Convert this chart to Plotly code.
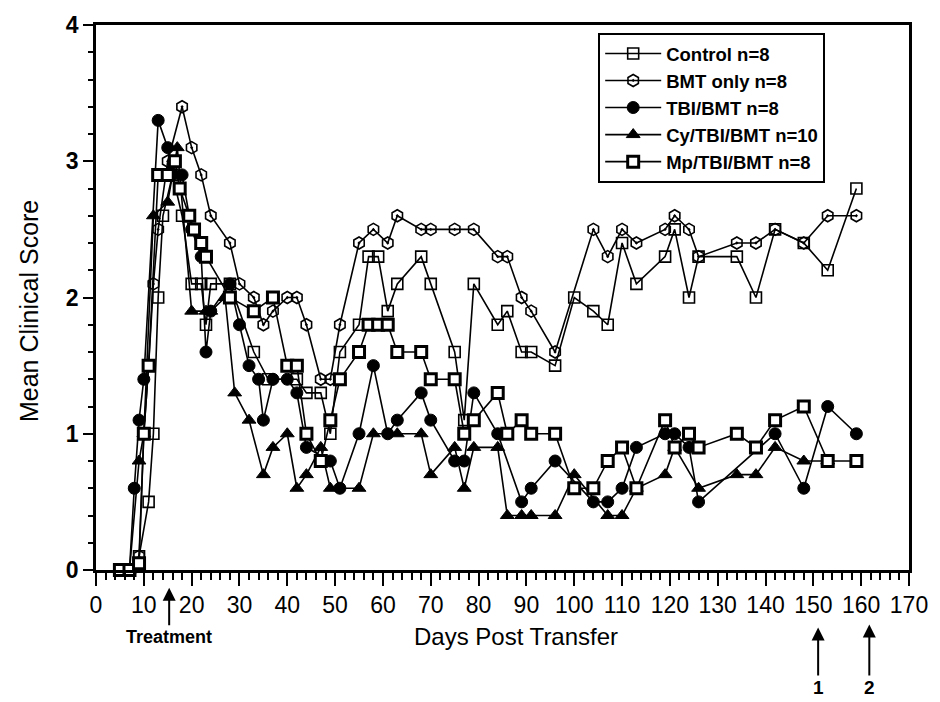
import plotly.graph_objects as go

# ---------------- data ----------------
control_days = [5, 7, 9, 11, 12, 13, 14, 16, 18, 20, 22, 23, 24, 28, 33, 36, 42, 44, 47, 49, 51, 55, 57, 59,
                61, 63, 68, 70, 75, 77, 79, 84, 86, 89, 91, 96, 100, 104, 107, 110, 113, 119, 121, 124,
                126, 134, 138, 142, 148, 153, 159]
control_vals = [0, 0, 0.1, 0.5, 1.0, 2.0, 2.6, 2.9, 2.6, 2.1, 2.1, 1.8, 2.1, 2.1, 1.6, 1.4, 1.4, 1.3, 1.3, 1.0, 1.6, 1.8, 2.3, 2.3,
                1.9, 2.1, 2.3, 2.1, 1.6, 1.1, 2.1, 1.8, 1.9, 1.6, 1.6, 1.5, 2.0, 1.9, 1.8, 2.4, 2.1, 2.3, 2.5, 2.0,
                2.3, 2.3, 2.0, 2.5, 2.4, 2.2, 2.8]

bmt_days = [5, 7, 9, 10, 11, 12, 13, 15, 18, 20, 22, 24, 28, 30, 33, 35, 37, 40, 42, 44, 47, 49, 51, 55, 58,
            61, 63, 68, 70, 75, 79, 84, 86, 89, 91, 96, 104, 107, 110, 113, 119, 121, 124, 126, 134, 138,
            142, 148, 153, 159]
bmt_vals = [0, 0, 0.1, 1.0, 1.5, 2.1, 2.5, 3.0, 3.4, 3.1, 2.9, 2.6, 2.4, 2.1, 2.0, 1.8, 1.9, 2.0, 2.0, 1.8, 1.4, 1.4, 1.8, 2.4, 2.5,
            2.4, 2.6, 2.5, 2.5, 2.5, 2.5, 2.3, 2.3, 2.0, 1.9, 1.6, 2.5, 2.3, 2.5, 2.4, 2.5, 2.6, 2.5, 2.3, 2.4, 2.4,
            2.5, 2.4, 2.6, 2.6]

tbi_days = [5, 7, 8, 9, 10, 13, 15, 16, 18, 20, 22, 23, 24, 28, 30, 32, 34, 35, 37, 40, 42, 44, 49, 51, 55,
            58, 61, 63, 68, 70, 75, 77, 79, 84, 89, 91, 96, 104, 107, 110, 113, 119, 121, 124, 126, 142,
            148, 153, 159]
tbi_vals = [0, 0, 0.6, 1.1, 1.4, 3.3, 3.1, 2.9, 2.9, 2.5, 2.3, 1.6, 1.9, 2.1, 1.8, 1.5, 1.4, 1.1, 1.4, 1.4, 1.3, 0.9, 0.8, 0.6, 1.0,
            1.5, 1.0, 1.1, 1.3, 1.1, 0.8, 0.8, 1.3, 1.0, 0.5, 0.6, 0.8, 0.5, 0.5, 0.6, 0.9, 1.0, 1.0, 0.9, 0.5, 1.0,
            0.6, 1.2, 1.0]

cy_days = [5, 7, 9, 10, 12, 15, 17, 20, 23, 24, 27, 29, 32, 35, 37, 40, 42, 44, 47, 49, 55, 58, 63, 68, 70,
           75, 77, 79, 84, 86, 89, 91, 96, 100, 107, 110, 113, 119, 121, 126, 134, 138, 142, 148, 153]
cy_vals = [0, 0, 0.8, 1.0, 2.6, 2.7, 3.1, 1.9, 1.9, 1.9, 2.0, 1.3, 1.1, 0.7, 0.9, 1.0, 0.6, 0.7, 0.9, 0.6, 0.6, 1.0, 1.0, 1.0, 0.7,
           0.9, 0.6, 0.9, 0.9, 0.4, 0.4, 0.4, 0.4, 0.7, 0.4, 0.4, 0.6, 0.7, 0.9, 0.6, 0.7, 0.7, 0.9, 0.8, 0.8]

mp_days = [5, 7, 9, 10, 11, 13, 15, 16.5, 17.5, 19.5, 20.5, 22, 23, 28, 33, 37, 40, 42, 44, 47, 49, 51, 55,
           57, 59, 61, 63, 68, 70, 75, 77, 79, 84, 86, 89, 91, 96, 100, 104, 107, 110, 113, 119, 121,
           124, 126, 134, 138, 142, 148, 153, 159]
mp_vals = [0, 0, 0.05, 1.0, 1.5, 2.9, 2.9, 3.0, 2.8, 2.6, 2.5, 2.4, 2.3, 2.0, 1.9, 2.0, 1.5, 1.5, 1.0, 0.8, 1.1, 1.4, 1.6,
           1.8, 1.8, 1.8, 1.6, 1.6, 1.4, 1.4, 1.0, 1.1, 1.3, 1.0, 1.1, 1.0, 1.0, 0.6, 0.6, 0.8, 0.9, 0.6, 1.1, 0.9,
           1.0, 0.9, 1.0, 0.9, 1.1, 1.2, 0.8, 0.8]

series_names = ["Control n=8", "BMT only n=8", "TBI/BMT n=8", "Cy/TBI/BMT n=10", "Mp/TBI/BMT n=8"]
x_tick_vals = list(range(0, 171, 10))
y_tick_vals = [0, 1, 2, 3, 4]

# ---------------- figure ----------------
FONT = "Liberation Sans, Arial, sans-serif"
fig = go.Figure()

styles = [
    dict(symbol="square-open", size=11, color="black", line=dict(color="black", width=1.6)),
    dict(symbol="hexagon-open-dot", size=12, color="black", line=dict(color="black", width=1.6)),
    dict(symbol="circle", size=12, color="black", line=dict(color="black", width=1)),
    dict(symbol="triangle-up", size=12, color="black", line=dict(color="black", width=1)),
    dict(symbol="square", size=11, color="white", line=dict(color="black", width=3)),
]
all_series = [(control_days, control_vals), (bmt_days, bmt_vals), (tbi_days, tbi_vals),
              (cy_days, cy_vals), (mp_days, mp_vals)]

for (xs, ys), name, mk in zip(all_series, series_names, styles):
    fig.add_trace(go.Scatter(
        x=xs, y=ys, name=name, mode="lines+markers",
        line=dict(color="black", width=1.6),
        marker=mk, cliponaxis=False,
    ))

fig.update_layout(
    width=940, height=702,
    margin=dict(l=96, r=20, t=20, b=132),
    paper_bgcolor="white", plot_bgcolor="white",
    font=dict(family=FONT, color="black"),
    showlegend=True,
    legend=dict(
        x=0.6177, y=0.9855, xanchor="left", yanchor="top",
        bgcolor="white", bordercolor="black", borderwidth=2,
        font=dict(family=FONT, size=18.5, color="black", weight="bold"),
        tracegroupgap=0, itemwidth=56,
    ),
)

fig.update_xaxes(
    range=[0, 170], tickmode="array", tickvals=x_tick_vals,
    ticks="outside", ticklen=13, tickwidth=2, tickcolor="black",
    minor=dict(dtick=2, ticks="outside", ticklen=7, tickwidth=1.5, tickcolor="black"),
    showline=True, linewidth=2.5, linecolor="black", mirror=True,
    showgrid=False, zeroline=False,
    tickfont=dict(family=FONT, size=23, color="black"),
)
fig.update_yaxes(
    range=[0, 4], tickmode="array", tickvals=y_tick_vals,
    ticks="outside", ticklen=10, tickwidth=2, tickcolor="black",
    minor=dict(dtick=0.2, ticks="outside", ticklen=5, tickwidth=1.5, tickcolor="black"),
    showline=True, linewidth=2.5, linecolor="black", mirror=True,
    showgrid=False, zeroline=False,
    tickfont=dict(family=FONT, size=23, color="black", weight="bold"),
)

# axis titles placed as annotations to match the reference's positions
fig.add_annotation(x=0.517, y=-0.1218, xref="paper", yref="paper", showarrow=False,
                   text="Days Post Transfer", xanchor="center", yanchor="middle",
                   font=dict(family=FONT, size=24, color="black"))
fig.add_annotation(x=-0.0825, y=0.475, xref="paper", yref="paper", showarrow=False,
                   text="Mean Clinical Score", textangle=-90, xanchor="center", yanchor="middle",
                   font=dict(family=FONT, size=25, color="black"))

arrow_common = dict(xref="x", yref="paper", showarrow=True, arrowhead=2, arrowsize=1.3,
                    arrowwidth=2, arrowcolor="black", ax=0)
fig.add_annotation(x=15.3, y=-0.0327, text="Treatment", ay=49,
                   font=dict(family=FONT, size=18, color="black", weight="bold"), **arrow_common)
fig.add_annotation(x=151, y=-0.1055, text="1", ay=60,
                   font=dict(family=FONT, size=19, color="black", weight="bold"), **arrow_common)
fig.add_annotation(x=161.7, y=-0.1, text="2", ay=63,
                   font=dict(family=FONT, size=19, color="black", weight="bold"), **arrow_common)

# remove the browser's default 8px body margin so the 940x702 figure fills the window exactly
fig.write_html(
    "out.html",
    config={"displayModeBar": False},
    post_script="document.body.style.margin='0';document.body.style.overflow='hidden';",
)
